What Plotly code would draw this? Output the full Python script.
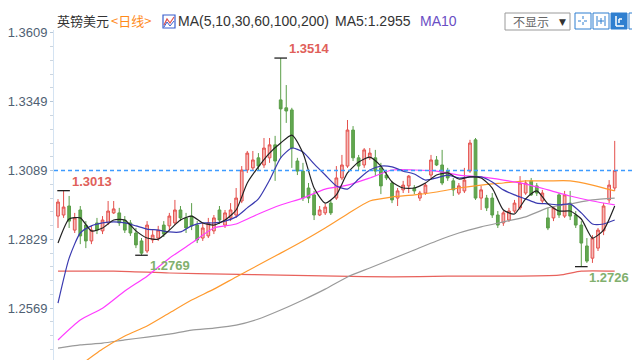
import plotly.graph_objects as go

# ---------------- data ----------------
opens = [1.2917,1.2921,1.2955,1.2864,1.2940,1.2883,1.2823,1.2891,1.2861,1.2891,
         1.2929,1.2929,1.2902,1.2891,1.2853,1.2823,1.2785,1.2827,1.2834,1.2883,
         1.2880,1.2891,1.2940,1.2910,1.2917,1.2883,1.2834,1.2842,1.2861,1.2940,
         1.2883,1.2910,1.2921,1.2974,1.3091,1.3099,1.3137,1.3110,1.3137,1.3186,
         1.3356,1.3326,1.3318,1.3125,1.3087,1.3023,1.2997,1.2921,1.2929,1.2966,
         1.2985,1.3061,1.3106,1.3242,1.3137,1.3110,1.3137,1.3137,1.3099,1.3072,
         1.3042,1.2985,1.3016,1.3031,1.3023,1.2985,1.3004,1.3072,1.3129,1.3110,
         1.3087,1.3050,1.3004,1.3012,1.3087,1.3205,1.2985,1.2985,1.2985,1.2921,
         1.2891,1.2902,1.2936,1.2948,1.3004,1.3050,1.3031,1.2974,1.2910,1.2910,
         1.2997,1.2917,1.2966,1.2921,1.2883,1.2804,1.2758,1.2796,1.2861,1.2978,
         1.3023]
highs = [1.2981,1.3013,1.2993,1.2929,1.2955,1.2898,1.2880,1.2910,1.2917,1.2974,
         1.2974,1.2948,1.2917,1.2902,1.2872,1.2834,1.2898,1.2864,1.2880,1.2898,
         1.2929,1.2978,1.2955,1.2929,1.2966,1.2898,1.2891,1.2910,1.2921,1.2955,
         1.2940,1.2966,1.3023,1.3106,1.3163,1.3163,1.3155,1.3212,1.3212,1.3220,
         1.3514,1.3412,1.3326,1.3137,1.3118,1.3042,1.3012,1.2955,1.2963,1.2978,
         1.3106,1.3148,1.3280,1.3257,1.3148,1.3174,1.3174,1.3167,1.3118,1.3087,
         1.3050,1.3023,1.3050,1.3072,1.3034,1.3012,1.3042,1.3148,1.3144,1.3167,
         1.3099,1.3061,1.3042,1.3099,1.3205,1.3212,1.3031,1.2997,1.3004,1.2936,
         1.2936,1.2948,1.2978,1.3068,1.3053,1.3061,1.3042,1.3016,1.2948,1.2955,
         1.3004,1.3012,1.3012,1.2936,1.2898,1.2834,1.2845,1.2872,1.2966,1.3053,
         1.3201]
lows = [1.2872,1.2910,1.2872,1.2853,1.2811,1.2796,1.2811,1.2849,1.2849,1.2883,
        1.2925,1.2880,1.2853,1.2842,1.2796,1.2769,1.2777,1.2815,1.2823,1.2838,
        1.2864,1.2883,1.2898,1.2853,1.2864,1.2815,1.2823,1.2834,1.2849,1.2887,
        1.2872,1.2898,1.2910,1.2966,1.3080,1.3091,1.3091,1.3099,1.3118,1.3050,
        1.3137,1.3269,1.3099,1.3072,1.2974,1.2966,1.2902,1.2917,1.2921,1.2921,
        1.2978,1.3053,1.3099,1.3125,1.3091,1.3099,1.3129,1.3068,1.3000,1.3053,
        1.2966,1.2955,1.3004,1.3004,1.3000,1.2974,1.2997,1.3061,1.3106,1.3034,
        1.3050,1.2993,1.2997,1.3004,1.3080,1.2978,1.2940,1.2936,1.2910,1.2872,
        1.2880,1.2895,1.2929,1.2940,1.2997,1.2993,1.2993,1.2966,1.2864,1.2898,
        1.2910,1.2910,1.2902,1.2872,1.2726,1.2740,1.2740,1.2785,1.2845,1.2966,
        1.3012]
closes = [1.2970,1.2951,1.2898,1.2910,1.2842,1.2823,1.2864,1.2864,1.2902,1.2936,
          1.2944,1.2891,1.2864,1.2853,1.2808,1.2777,1.2883,1.2845,1.2864,1.2849,
          1.2917,1.2940,1.2910,1.2872,1.2880,1.2827,1.2872,1.2891,1.2910,1.2902,
          1.2929,1.2940,1.2985,1.3091,1.3155,1.3129,1.3106,1.3174,1.3186,1.3125,
          1.3322,1.3314,1.3174,1.3087,1.2985,1.2985,1.2921,1.2940,1.2951,1.2929,
          1.3061,1.3110,1.3242,1.3137,1.3106,1.3167,1.3155,1.3087,1.3031,1.3061,
          1.2978,1.3012,1.3034,1.3068,1.3012,1.3004,1.3034,1.3129,1.3110,1.3042,
          1.3061,1.3016,1.3031,1.3053,1.3193,1.2985,1.3016,1.2948,1.2921,1.2883,
          1.2929,1.2936,1.2966,1.3042,1.3042,1.2997,1.3004,1.3004,1.2872,1.2948,
          1.2921,1.2997,1.2917,1.2883,1.2815,1.2747,1.2834,1.2864,1.2955,1.3034,
          1.3089]

ma5_idx = list(range(0, 101, 2))
ma5 = [1.2815,1.2906,1.2910,1.2861,1.2872,1.2902,1.2902,1.2861,1.2834,1.2830,
       1.2864,1.2902,1.2917,1.2891,1.2883,1.2902,1.2940,1.3042,1.3103,1.3155,
       1.3193,1.3223,1.3155,1.3023,1.2966,1.2997,1.3080,1.3121,1.3140,1.3106,
       1.3046,1.3023,1.3023,1.3042,1.3072,1.3080,1.3057,1.3065,1.3061,1.3023,
       1.2940,1.2925,1.2982,1.3012,1.2963,1.2936,1.2936,1.2906,1.2834,1.2864,
       1.2955]
ma10_idx = list(range(0, 101, 2))
ma10 = [1.2588,1.2758,1.2853,1.2880,1.2891,1.2895,1.2891,1.2880,1.2868,1.2864,
        1.2857,1.2857,1.2880,1.2891,1.2891,1.2898,1.2914,1.2948,1.2982,1.3053,
        1.3137,1.3174,1.3159,1.3114,1.3072,1.3031,1.3019,1.3057,1.3091,1.3106,
        1.3103,1.3087,1.3076,1.3053,1.3061,1.3072,1.3061,1.3065,1.3065,1.3046,
        1.3016,1.2997,1.2982,1.2966,1.2963,1.2959,1.2963,1.2929,1.2887,1.2887,
        1.2902]
ma30_idx = list(range(0, 101, 4))
ma30 = [1.2449,1.2524,1.2569,1.2634,1.2690,1.2758,1.2815,1.2872,1.2887,1.2925,
        1.2959,1.2985,1.3019,1.3034,1.3061,1.3091,1.3091,1.3087,1.3072,1.3065,
        1.3053,1.3038,1.3016,1.2993,1.2974,1.2959]
ma60_idx = list(range(4, 101, 4))
ma60 = [1.2354,1.2415,1.2464,1.2502,1.2551,1.2600,1.2641,1.2687,1.2732,1.2777,
        1.2823,1.2872,1.2925,1.2974,1.2989,1.2997,1.3008,1.3023,1.3034,1.3042,
        1.3050,1.3050,1.3050,1.3034,1.3012]
ma100_idx = list(range(0, 101, 4))
ma100 = [1.2418,1.2430,1.2437,1.2449,1.2460,1.2471,1.2486,1.2494,1.2505,1.2528,
         1.2562,1.2600,1.2641,1.2687,1.2721,1.2755,1.2789,1.2823,1.2853,1.2876,
         1.2895,1.2914,1.2948,1.2963,1.2978,1.2985]
ma200_idx = [0, 10, 20, 30, 40, 50, 60, 70, 80, 90, 94, 100]
ma200 = [1.2709,1.2709,1.2702,1.2698,1.2694,1.2690,1.2687,1.2690,1.2690,1.2694,1.2709,1.2709]

y_ticks = [1.2569, 1.2829, 1.3089, 1.3349, 1.3609]
last_price = 1.3089
ma5_last = 1.2955
high_marks = [1, 40]
low_marks = [15, 94]

# ---------------- figure ----------------
L, T, W, H = 46, 22, 594, 338
def PX(px):
    return (px - L) / W
def PY(py):
    return (360 - py) / H

idx = list(range(len(closes)))
fig = go.Figure()
fig.add_trace(go.Candlestick(
    x=idx, open=opens, high=highs, low=lows, close=closes,
    increasing=dict(line=dict(color='#e4504c', width=1), fillcolor='rgba(228,80,76,0.40)'),
    decreasing=dict(line=dict(color='#5a9e48', width=1), fillcolor='#62a850'),
    whiskerwidth=0, showlegend=False, hoverinfo='skip'))

ma_specs = [(ma200_idx, ma200, '#e8625c'), (ma100_idx, ma100, '#9a9a9a'),
            (ma60_idx, ma60, '#ff9a2e'), (ma30_idx, ma30, '#ff3cff'),
            (ma10_idx, ma10, '#3a3ab0'), (ma5_idx, ma5, '#222222')]
for xi, yv, col in ma_specs:
    fig.add_trace(go.Scatter(x=xi, y=yv, mode='lines',
                             line=dict(color=col, width=1.2, shape='spline', smoothing=0.6),
                             showlegend=False, hoverinfo='skip'))

# extreme markers
fig.add_trace(go.Scatter(x=high_marks + low_marks,
                         y=[highs[i] for i in high_marks] + [lows[i] for i in low_marks],
                         mode='markers',
                         marker=dict(symbol='line-ew', size=9, line=dict(color='#222', width=1.3)),
                         showlegend=False, hoverinfo='skip'))
for i in high_marks:
    fig.add_annotation(x=i, y=highs[i], text=f"{highs[i]:.4f}", showarrow=False,
                       xanchor='left', yanchor='bottom', xshift=6, yshift=0,
                       font=dict(family='Liberation Sans', size=13, color='#e0605a', weight='bold'))
for i in low_marks:
    fig.add_annotation(x=i, y=lows[i], text=f"{lows[i]:.4f}", showarrow=False,
                       xanchor='left', yanchor='top', xshift=6, yshift=-1,
                       font=dict(family='Liberation Sans', size=13, color='#82b06e', weight='bold'))

# last price dashed line
fig.add_shape(type='line', xref='paper', x0=0, x1=1, yref='y', y0=last_price, y1=last_price,
              line=dict(color='#3d9bff', width=1.5, dash='4px,3px'))

# ---------------- header ----------------
yh = PY(13)
def head(px, text, color, family='Liberation Sans', size=14):
    fig.add_annotation(xref='paper', yref='paper', x=PX(px), y=yh, text=text, showarrow=False,
                       xanchor='left', yanchor='middle',
                       font=dict(family=family, size=size, color=color))
head(47, '英镑美元', '#333333', 'Noto Sans CJK SC', 13)
head(101, '&lt;日线&gt;', '#ff8a1a', 'Noto Sans CJK SC', 13)
head(168, 'MA(5,10,30,60,100,200)', '#333333')
head(325, f'MA5:{ma5_last:.4f}', '#333333')
head(410, 'MA10', '#6a4ec4')

# small MA icon
fig.add_shape(type='rect', xref='paper', yref='paper', x0=PX(155), x1=PX(167), y0=PY(20), y1=PY(7),
              line=dict(color='#3a5fcd', width=1.2))
fig.add_shape(type='path', xref='paper', yref='paper',
              path=f"M {PX(156)},{PY(17)} L {PX(159)},{PY(11)} L {PX(162)},{PY(15)} L {PX(166)},{PY(9)}",
              line=dict(color='#e0504c', width=1.2))
fig.add_shape(type='path', xref='paper', yref='paper',
              path=f"M {PX(156)},{PY(19)} L {PX(159)},{PY(14)} L {PX(162)},{PY(18)} L {PX(166)},{PY(13)}",
              line=dict(color='#3a5fcd', width=1))

# dropdown box
fig.add_shape(type='rect', xref='paper', yref='paper', x0=PX(497), x1=PX(562), y0=PY(22), y1=PY(5),
              line=dict(color='#9a9a9a', width=1), fillcolor='white')
fig.add_annotation(xref='paper', yref='paper', x=PX(503), y=PY(13.5), text='不显示', showarrow=False,
                   xanchor='left', yanchor='middle',
                   font=dict(family='Noto Sans CJK SC', size=12, color='#666666'))
fig.add_annotation(xref='paper', yref='paper', x=PX(549), y=PY(13.5), text='▼', showarrow=False,
                   xanchor='left', yanchor='middle',
                   font=dict(family='DejaVu Sans', size=9, color='#333333'))

# toolbar icons
blue = '#2f7fd0'
for k, x0 in enumerate([567, 585, 603, 621]):
    fig.add_shape(type='rect', xref='paper', yref='paper', x0=PX(x0), x1=PX(x0 + 16),
                  y0=PY(21), y1=PY(5), line=dict(color=blue, width=1),
                  fillcolor=blue if k == 2 else 'white')
def seg(x0, y0, x1, y1, color=blue, dash='solid', w=1):
    fig.add_shape(type='line', xref='paper', yref='paper', x0=PX(x0), y0=PY(y0), x1=PX(x1), y1=PY(y1),
                  line=dict(color=color, width=w, dash=dash))
seg(575, 8, 575, 18, dash='dot'); seg(570, 13, 580, 13, dash='dot')
seg(589, 8, 589, 18); seg(597, 8, 597, 18); seg(590, 13, 596, 13); seg(593, 10, 593, 16)
seg(608, 8, 608, 18, color='white', w=1.5); seg(608, 18, 616, 18, color='white', w=1.5)
seg(611, 11, 611, 15, color='white', w=1.5); seg(611, 11, 614, 11, color='white', w=1.5)
seg(625, 8, 625, 18, w=1.5); seg(627, 13, 634, 13, w=1.5)
fig.add_shape(type='path', xref='paper', yref='paper',
              path=f"M {PX(631)},{PY(10)} L {PX(635)},{PY(13)} L {PX(631)},{PY(16)} Z",
              line=dict(color=blue, width=1), fillcolor=blue)

fig.update_layout(
    width=640, height=360, margin=dict(l=L, r=0, t=T, b=0, autoexpand=False),
    paper_bgcolor='white', plot_bgcolor='white', showlegend=False,
    xaxis=dict(range=[-0.72, 105.98], visible=False, rangeslider=dict(visible=False),
               automargin=False),
    yaxis=dict(range=[1.2343, 1.3620], tickmode='array', tickvals=y_ticks, automargin=False,
               ticktext=[f"{t:.4f}" for t in y_ticks], showgrid=False, zeroline=False,
               showline=True, linecolor='#d4e3f2', linewidth=1,
               ticks='outside', ticklen=3, tickcolor='#b8c8d8',
               tickfont=dict(family='Liberation Sans', size=13, color='#4f5f73'),
               minor=dict(tickmode='linear', tick0=1.2569, dtick=0.0052, ticks='outside',
                          ticklen=3, tickcolor='#ccd6e0', showgrid=False)),
)

fig.write_html("out.html")
